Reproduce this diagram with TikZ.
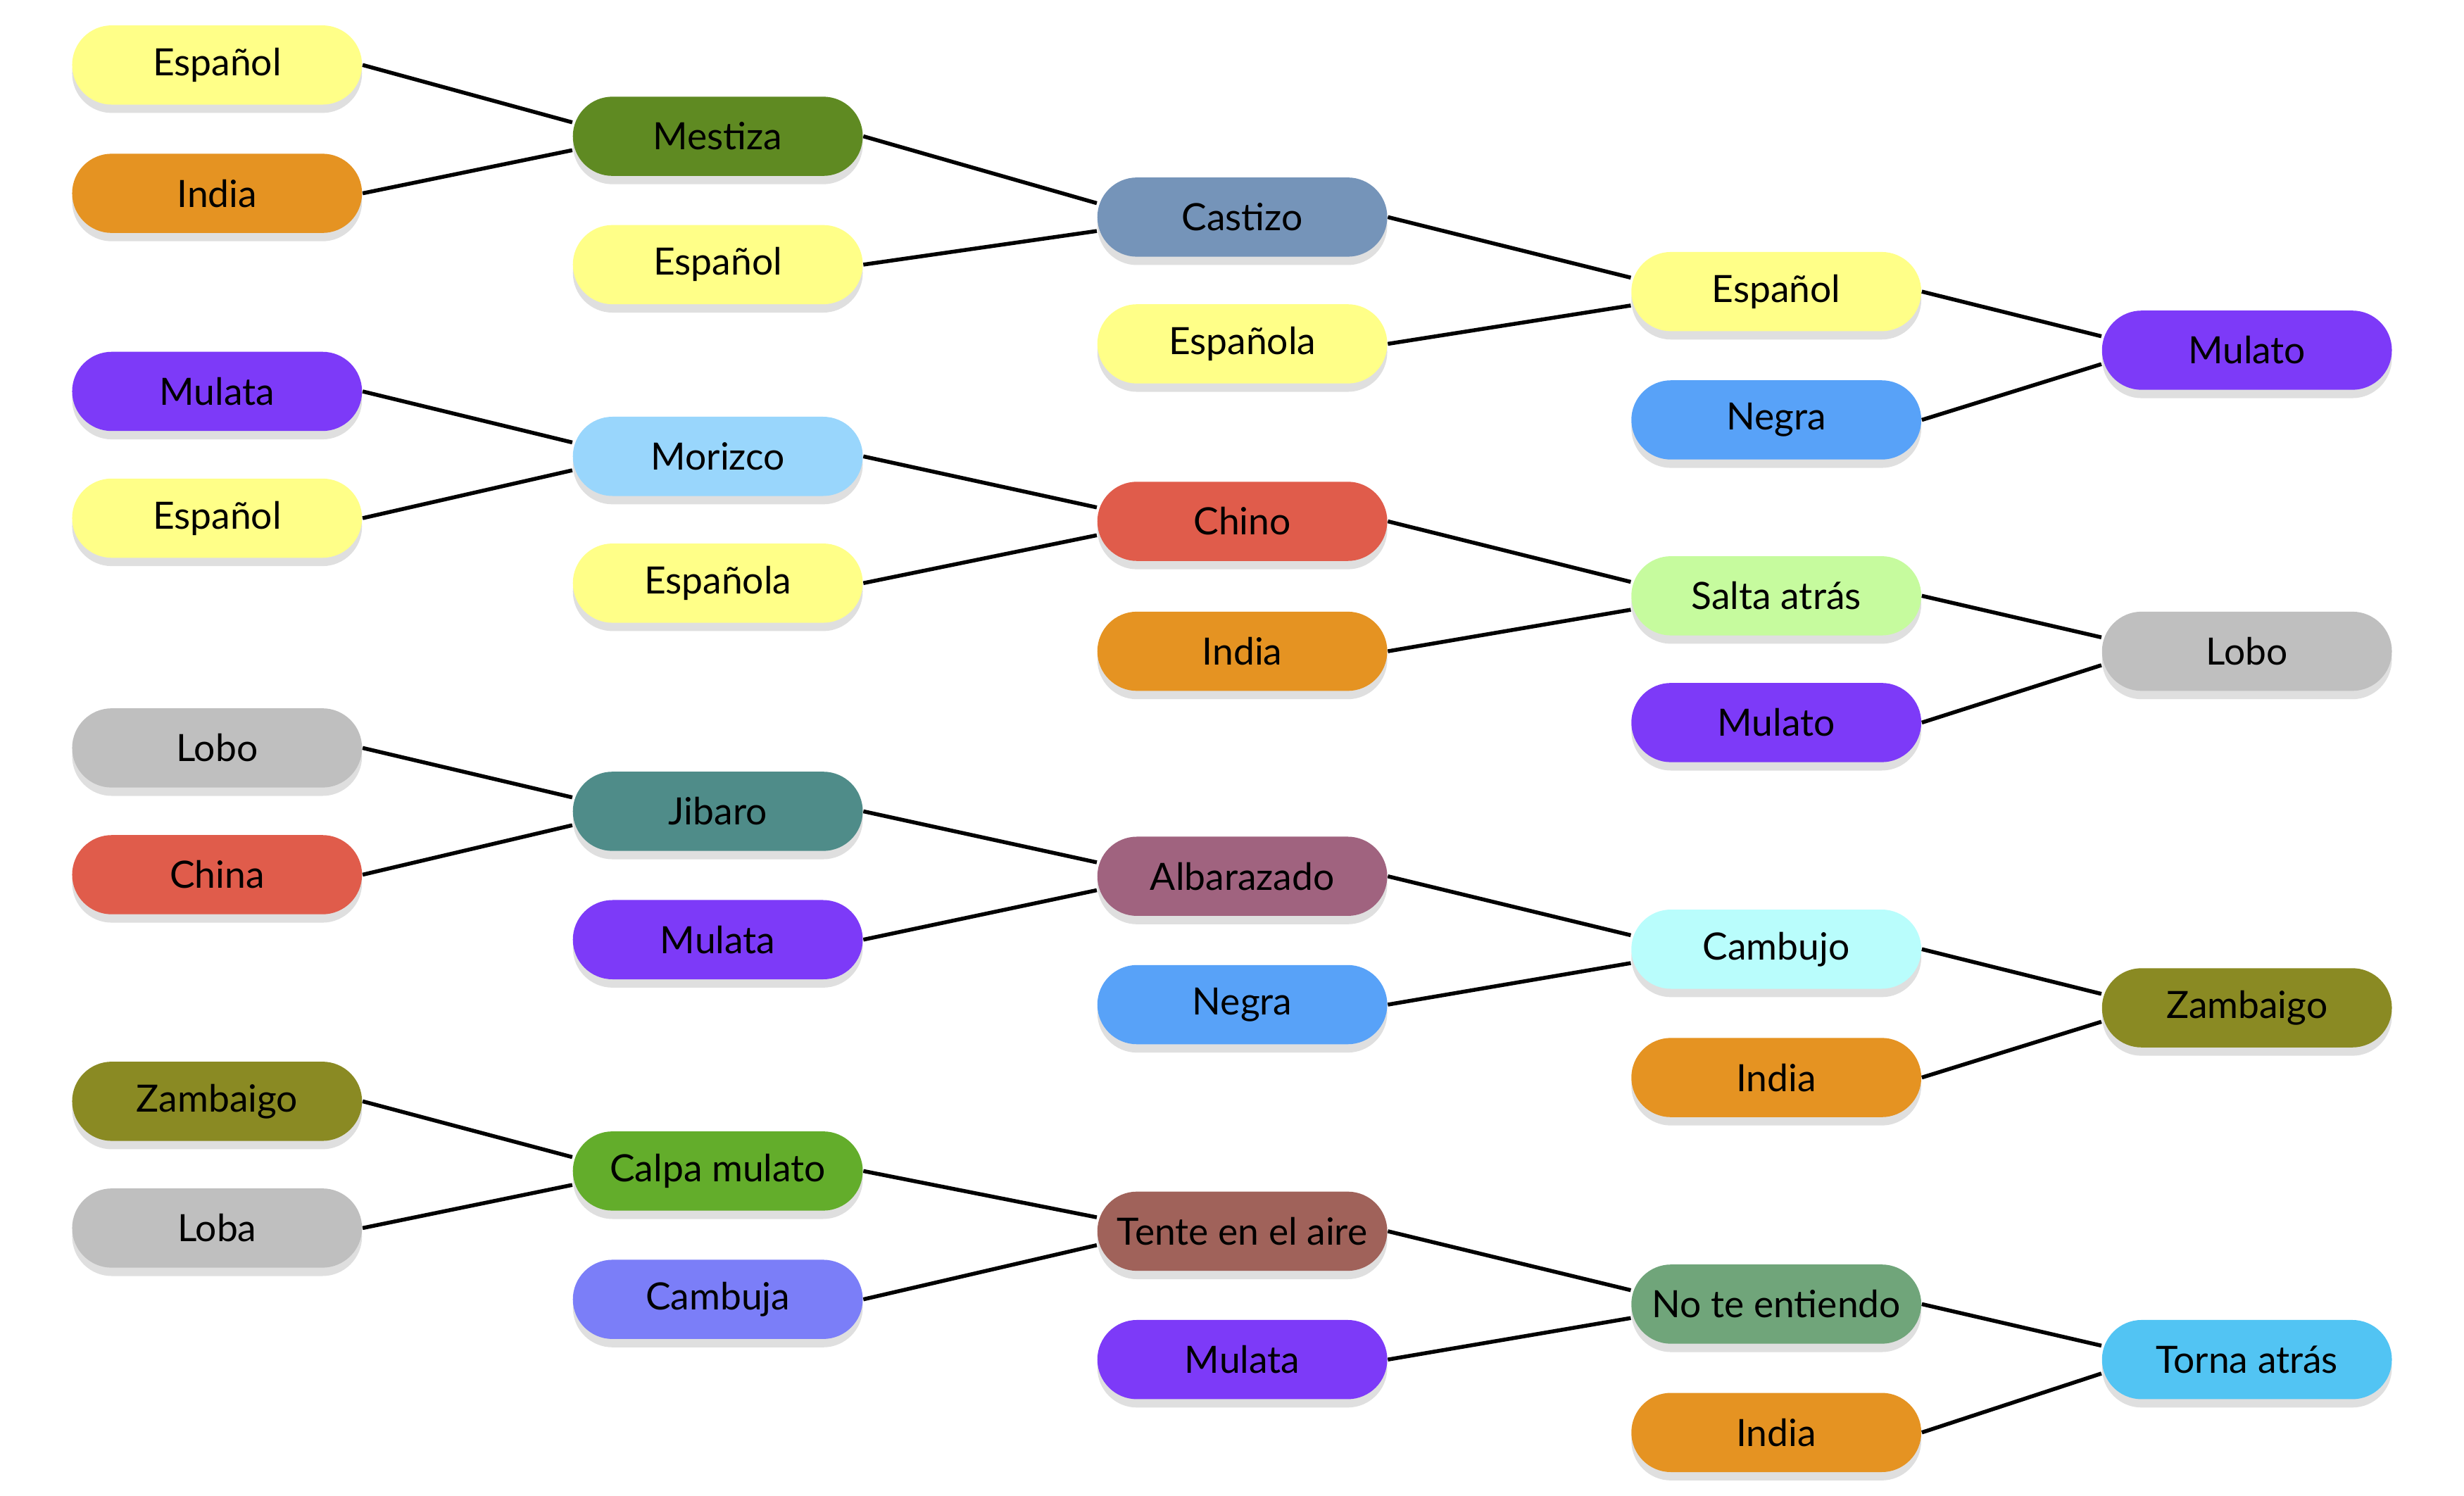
\documentclass[tikz,border=0pt]{standalone}
\usepackage{fontspec}
\setmainfont{Lato}
\usetikzlibrary{shadows,positioning}
\definecolor{cyellow}{HTML}{FFFF88}
\definecolor{corange}{HTML}{E59322}
\definecolor{cpurple}{HTML}{7D3AF8}
\definecolor{clblue}{HTML}{99D6FC}
\definecolor{cgray}{HTML}{BFBFBF}
\definecolor{cred}{HTML}{E05C4B}
\definecolor{colive}{HTML}{8A8A23}
\definecolor{cdgreen}{HTML}{5F8A22}
\definecolor{cteal}{HTML}{4F8C89}
\definecolor{cgreen}{HTML}{63AD2B}
\definecolor{cperi}{HTML}{7B7EF8}
\definecolor{cslate}{HTML}{7594B9}
\definecolor{cmauve}{HTML}{A0637F}
\definecolor{cblue}{HTML}{58A2F8}
\definecolor{cbrown}{HTML}{A0625A}
\definecolor{clgreen}{HTML}{C6FB9E}
\definecolor{clcyan}{HTML}{B9FDFC}
\definecolor{csage}{HTML}{70A57A}
\definecolor{csky}{HTML}{52C4F3}

\begin{document}
\begin{tikzpicture}[
  x=0.02cm, y=-0.02cm,
  caste/.style={rounded corners=0.5cm, minimum width=3.66cm, minimum height=1cm,
    inner sep=0pt, font=\fontsize{13.5}{16}\selectfont,
    drop shadow={shadow xshift=0pt, shadow yshift=-3pt, opacity=0.25}},
  link/.style={very thick, line width=1.4pt},
]
  \useasboundingbox (0,0) rectangle (1555,944);

  % first column
  \node[caste, fill=cyellow] (espA) at (137,41) {Español};
  \node[caste, fill=corange] (indA) at (137,122) {India};
  \node[caste, fill=cpurple] (mulA) at (137,247) {Mulata};
  \node[caste, fill=cyellow] (espB) at (137,327) {Español};
  \node[caste, fill=cgray] (loboA) at (137,472) {Lobo};
  \node[caste, fill=cred] (china) at (137,552) {China};
  \node[caste, fill=colive] (zamA) at (137,695) {Zambaigo};
  \node[caste, fill=cgray] (loba) at (137,775) {Loba};

  % second column
  \node[caste, fill=cdgreen] (mestiza) at (453,86) {Mestiza};
  \node[caste, fill=cyellow] (espC) at (453,167) {Español};
  \node[caste, fill=clblue] (morizco) at (453,288) {Morizco};
  \node[caste, fill=cyellow] (espaA) at (453,368) {Española};
  \node[caste, fill=cteal] (jibaro) at (453,512) {Jibaro};
  \node[caste, fill=cpurple] (mulB) at (453,593) {Mulata};
  \node[caste, fill=cgreen] (calpa) at (453,739) {Calpa mulato};
  \node[caste, fill=cperi] (cambuja) at (453,820) {Cambuja};

  % third column
  \node[caste, fill=cslate] (castizo) at (784,137) {Castizo};
  \node[caste, fill=cyellow] (espaB) at (784,217) {Española};
  \node[caste, fill=cred] (chino) at (784,329) {Chino};
  \node[caste, fill=corange] (indB) at (784,411) {India};
  \node[caste, fill=cmauve] (albar) at (784,553) {Albarazado};
  \node[caste, fill=cblue] (negA) at (784,634) {Negra};
  \node[caste, fill=cbrown] (tente) at (784,777) {Tente en el aire};
  \node[caste, fill=cpurple] (mulC) at (784,858) {Mulata};

  % fourth column
  \node[caste, fill=cyellow] (espD) at (1121,184) {Español};
  \node[caste, fill=cblue] (negB) at (1121,265) {Negra};
  \node[caste, fill=clgreen] (salta) at (1121,376) {Salta atrás};
  \node[caste, fill=cpurple] (mulatoA) at (1121,456) {Mulato};
  \node[caste, fill=clcyan] (cambujo) at (1121,599) {Cambujo};
  \node[caste, fill=corange] (indC) at (1121,680) {India};
  \node[caste, fill=csage] (note) at (1121,823) {No te entiendo};
  \node[caste, fill=corange] (indD) at (1121,904) {India};

  % fifth column
  \node[caste, fill=cpurple] (mulatoB) at (1418,221) {Mulato};
  \node[caste, fill=cgray] (loboB) at (1418,411) {Lobo};
  \node[caste, fill=colive] (zamB) at (1418,636) {Zambaigo};
  \node[caste, fill=csky] (torna) at (1418,858) {Torna atrás};

  \draw[link] (espA.east) -- ([yshift=5pt]mestiza.west);
  \draw[link] (indA.east) -- ([yshift=-5pt]mestiza.west);
  \draw[link] (mestiza.east) -- ([yshift=5pt]castizo.west);
  \draw[link] (espC.east) -- ([yshift=-5pt]castizo.west);
  \draw[link] (castizo.east) -- ([yshift=5pt]espD.west);
  \draw[link] (espaB.east) -- ([yshift=-5pt]espD.west);
  \draw[link] (espD.east) -- ([yshift=5pt]mulatoB.west);
  \draw[link] (negB.east) -- ([yshift=-5pt]mulatoB.west);

  \draw[link] (mulA.east) -- ([yshift=5pt]morizco.west);
  \draw[link] (espB.east) -- ([yshift=-5pt]morizco.west);
  \draw[link] (morizco.east) -- ([yshift=5pt]chino.west);
  \draw[link] (espaA.east) -- ([yshift=-5pt]chino.west);
  \draw[link] (chino.east) -- ([yshift=5pt]salta.west);
  \draw[link] (indB.east) -- ([yshift=-5pt]salta.west);
  \draw[link] (salta.east) -- ([yshift=5pt]loboB.west);
  \draw[link] (mulatoA.east) -- ([yshift=-5pt]loboB.west);

  \draw[link] (loboA.east) -- ([yshift=5pt]jibaro.west);
  \draw[link] (china.east) -- ([yshift=-5pt]jibaro.west);
  \draw[link] (jibaro.east) -- ([yshift=5pt]albar.west);
  \draw[link] (mulB.east) -- ([yshift=-5pt]albar.west);
  \draw[link] (albar.east) -- ([yshift=5pt]cambujo.west);
  \draw[link] (negA.east) -- ([yshift=-5pt]cambujo.west);
  \draw[link] (cambujo.east) -- ([yshift=5pt]zamB.west);
  \draw[link] (indC.east) -- ([yshift=-5pt]zamB.west);

  \draw[link] (zamA.east) -- ([yshift=5pt]calpa.west);
  \draw[link] (loba.east) -- ([yshift=-5pt]calpa.west);
  \draw[link] (calpa.east) -- ([yshift=5pt]tente.west);
  \draw[link] (cambuja.east) -- ([yshift=-5pt]tente.west);
  \draw[link] (tente.east) -- ([yshift=5pt]note.west);
  \draw[link] (mulC.east) -- ([yshift=-5pt]note.west);
  \draw[link] (note.east) -- ([yshift=5pt]torna.west);
  \draw[link] (indD.east) -- ([yshift=-5pt]torna.west);
\end{tikzpicture}
\end{document}
